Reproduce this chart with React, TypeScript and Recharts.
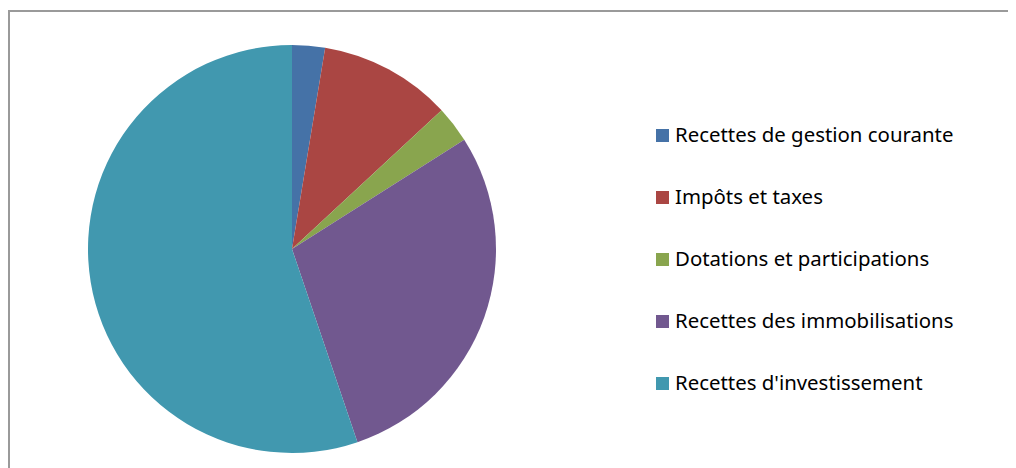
import { Cell, Legend, Pie, PieChart } from "recharts";

const categories = [
    "Recettes de gestion courante",
    "Impôts et taxes",
    "Dotations et participations",
    "Recettes des immobilisations",
    "Recettes d'investissement"
];
const values = [2.6, 10.5, 2.9, 28.8, 55.2];
const colors = ["#4572A7", "#AA4643", "#89A54E", "#71588F", "#4198AF"];

const data = categories.map((name, i) => ({ name, value: values[i] }));

function renderLegend() {
    return (
        <div style={{ fontFamily: "'Noto Sans', sans-serif", fontSize: 20.4, color: "#000" }}>
            {data.map((d, i) => (
                <div key={d.name} style={{ display: "flex", alignItems: "flex-start", height: 24, lineHeight: "24px", marginBottom: 38, whiteSpace: "nowrap" }}>
                    <span style={{ width: 13, height: 13, background: colors[i], marginTop: 7, marginRight: 6, flex: "none" }} />
                    <span>{d.name}</span>
                </div>
            ))}
        </div>
    );
}

export default function App() {
    return (
        <div style={{ marginTop: 2, width: 1006, height: 456, borderTop: "2px solid #9a9a9a", borderLeft: "2px solid #9a9a9a", background: "#fff" }}>
            <PieChart width={1006} height={456} margin={{ top: 0, right: 0, bottom: 0, left: 0 }}>
                <Pie
                    data={data}
                    dataKey="value"
                    nameKey="name"
                    cx={282}
                    cy={237}
                    outerRadius={204}
                    startAngle={90}
                    endAngle={-270}
                    stroke="none"
                    isAnimationActive={false}
                >
                    {data.map((d, i) => (
                        <Cell key={d.name} fill={colors[i]} />
                    ))}
                </Pie>
                <Legend
                    layout="vertical"
                    verticalAlign="top"
                    align="right"
                    wrapperStyle={{ left: 646, right: "auto", top: 110, width: 340 }}
                    content={renderLegend}
                />
            </PieChart>
        </div>
    );
}
